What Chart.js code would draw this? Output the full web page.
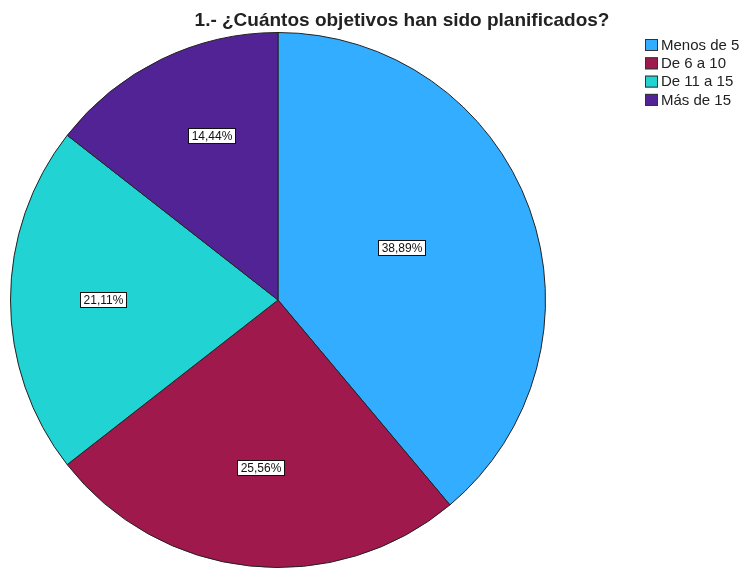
<!DOCTYPE html>
<html>
<head>
<meta charset="utf-8">
<script src="https://cdn.jsdelivr.net/npm/chart.js@4/dist/chart.umd.min.js"></script>
<style>
    html, body { margin: 0; padding: 0; background: #fff; }
    #wrap { width: 742px; height: 568px; }
</style>
</head>
<body>
<div id="wrap"><canvas id="myChart" width="742" height="568"></canvas></div>
<script>
const chartTitle = '1.- ¿Cuántos objetivos han sido planificados?';
const categories = ['Menos de 5', 'De 6 a 10', 'De 11 a 15', 'Más de 15'];
const percentages = [38.89, 25.56, 21.11, 14.44];
const sliceColors = ['#33ADFF', '#A0194D', '#22D3D3', '#522394'];

// where each value box sits: fraction of the radius, and a small turn (degrees) off the slice middle
const labelRadius = [0.5, 0.63, 0.655, 0.665];
const labelTurn = [-3, 0, 0, 4];

const FONT = '"Liberation Sans", Arial, sans-serif';

const pctText = (v) => v.toFixed(2).replace('.', ',') + '%';

// title, legend and the boxed percentages, drawn straight on the canvas
const decor = {
    id: 'decor',
    afterDraw(chart) {
        const ctx = chart.ctx;
        ctx.save();

        // title
        ctx.fillStyle = '#222';
        ctx.font = 'bold 19px ' + FONT;
        ctx.textAlign = 'center';
        ctx.textBaseline = 'alphabetic';
        ctx.fillText(chartTitle, 402, 26);

        // legend
        ctx.font = '15px ' + FONT;
        ctx.textAlign = 'left';
        ctx.textBaseline = 'middle';
        categories.forEach((c, i) => {
            const y = 39 + i * 18.3;
            ctx.fillStyle = sliceColors[i];
            ctx.fillRect(645, y, 13, 12);
            ctx.strokeStyle = '#333';
            ctx.lineWidth = 1;
            ctx.strokeRect(645.5, y + 0.5, 12, 11);
            ctx.fillStyle = '#222';
            ctx.fillText(c, 661, y + 6.5);
        });

        // value boxes
        const meta = chart.getDatasetMeta(0);
        ctx.font = '12px ' + FONT;
        ctx.textAlign = 'center';
        meta.data.forEach((arc, i) => {
            const p = arc.getProps(['x', 'y', 'startAngle', 'endAngle', 'outerRadius'], true);
            const mid = (p.startAngle + p.endAngle) / 2 + labelTurn[i] * Math.PI / 180;
            const r = p.outerRadius * labelRadius[i];
            const cx = p.x + Math.cos(mid) * r;
            const cy = p.y + Math.sin(mid) * r;
            const txt = pctText(percentages[i]);
            const w = Math.round(ctx.measureText(txt).width) + 6;
            const h = 15;
            const bx = Math.round(cx - w / 2) + 0.5;
            const by = Math.round(cy - h / 2) + 0.5;
            ctx.fillStyle = '#fff';
            ctx.fillRect(bx, by, w, h);
            ctx.strokeStyle = '#111';
            ctx.strokeRect(bx, by, w, h);
            ctx.fillStyle = '#111';
            ctx.fillText(txt, bx + w / 2, by + h / 2 + 0.5);
        });

        ctx.restore();
    }
};

const data = {
    labels: categories,
    datasets: [{
        data: percentages,
        backgroundColor: sliceColors,
        borderColor: '#222',
        borderWidth: 1
    }]
};

const config = {
    type: 'pie',
    data,
    options: {
        responsive: false,
        animation: false,
        layout: { padding: { left: 10, right: 196, top: 32, bottom: 0 } },
        plugins: {
            legend: { display: false },
            tooltip: { enabled: false }
        }
    },
    plugins: [decor]
};

var myChart = new Chart(document.getElementById('myChart'), config);
</script>
</body>
</html>
